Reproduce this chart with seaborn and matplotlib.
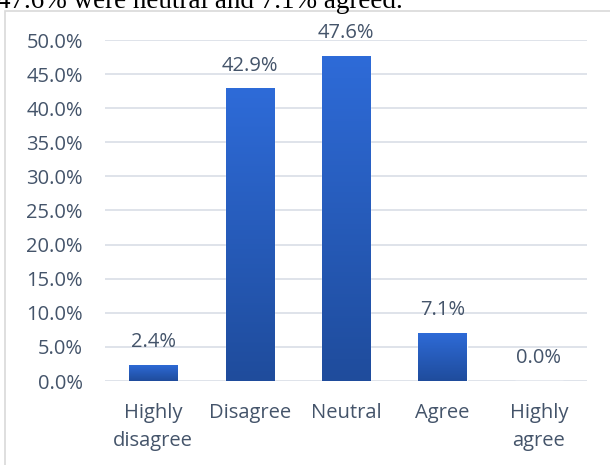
import numpy as np
import pandas as pd
import matplotlib
matplotlib.use("Agg")
import matplotlib.pyplot as plt
import seaborn as sns
from matplotlib.colors import LinearSegmentedColormap
from matplotlib.patches import Rectangle

# valores
categorias = ["Highly\ndisagree", "Disagree", "Neutral", "Agree", "Highly\nagree"]
percentuais = [2.4, 42.9, 47.6, 7.1, 0.0]
yticks = [0, 5, 10, 15, 20, 25, 30, 35, 40, 45, 50]

df = pd.DataFrame({"categoria": categorias, "pct": percentuais})

sns.set_style("white")
plt.rcParams["font.family"] = ["Open Sans", "DejaVu Sans"]

texto = "#44546A"
fonte = 14.5
fig = plt.figure(figsize=(6.1, 4.65), dpi=100)

# moldura do gráfico
fig.patches.append(Rectangle((5 / 610, -0.1), 1.1, 1 - 11 / 465 + 0.1,
                             transform=fig.transFigure, fill=False,
                             edgecolor="#D9D9D9", linewidth=1.2))
# texto cortado do documento (já cortado no original)
fig.text(-0.005, 1 - 7.5 / 465, "47.6% were neutral and 7.1% agreed.",
         family="Liberation Serif", fontsize=19.5, color="black", va="baseline")

ax = fig.add_axes([105 / 610, 84 / 465, 482 / 610, 341 / 465])
sns.barplot(data=df, x="categoria", y="pct", color="#2A62C8", width=0.5,
            saturation=1, ax=ax, zorder=3)

ax.set_ylim(0, 50)
ax.set_xlim(-0.5, 4.5)
ax.set_yticks(yticks)
ax.set_yticklabels([f"{v:.1f}%" for v in yticks])
ax.grid(axis="y", color="#D9DEE6", linewidth=1.2, zorder=0)
ax.set_axisbelow(True)
for s in ax.spines.values():
    s.set_visible(False)
ax.set_xlabel("")
ax.set_ylabel("")
ax.tick_params(axis="y", length=0, pad=16, labelsize=fonte, labelcolor=texto)
ax.tick_params(axis="x", length=0, pad=16, labelsize=fonte, labelcolor=texto)
for lbl in ax.get_xticklabels():
    lbl.set_linespacing(1.5)

# gradiente nas barras
cmap = LinearSegmentedColormap.from_list("azul", ["#1F4C9C", "#2E6BD8"])
grad = np.linspace(0, 1, 256).reshape(-1, 1)
for p in ax.patches:
    x0, y0 = p.get_x(), p.get_y()
    w, h = p.get_width(), p.get_height()
    if h <= 0:
        continue
    # sombra leve
    ax.add_patch(Rectangle((x0 + 0.01, -0.35), w, h + 0.35, color="#000000",
                           alpha=0.08, zorder=2, linewidth=0))
    im = ax.imshow(grad, cmap=cmap, aspect="auto", origin="lower",
                   extent=[x0, x0 + w, y0, y0 + h], zorder=4)
    im.set_clip_path(p)

ax.set_xlim(-0.5, 4.5)
ax.set_ylim(0, 50)

for i, v in enumerate(percentuais):
    ax.annotate(f"{v:.1f}%", (i, v), xytext=(0, 16.5), textcoords="offset points",
                ha="center", va="center", fontsize=fonte, color=texto,
                annotation_clip=False)

fig.savefig("out.png", dpi=100)
